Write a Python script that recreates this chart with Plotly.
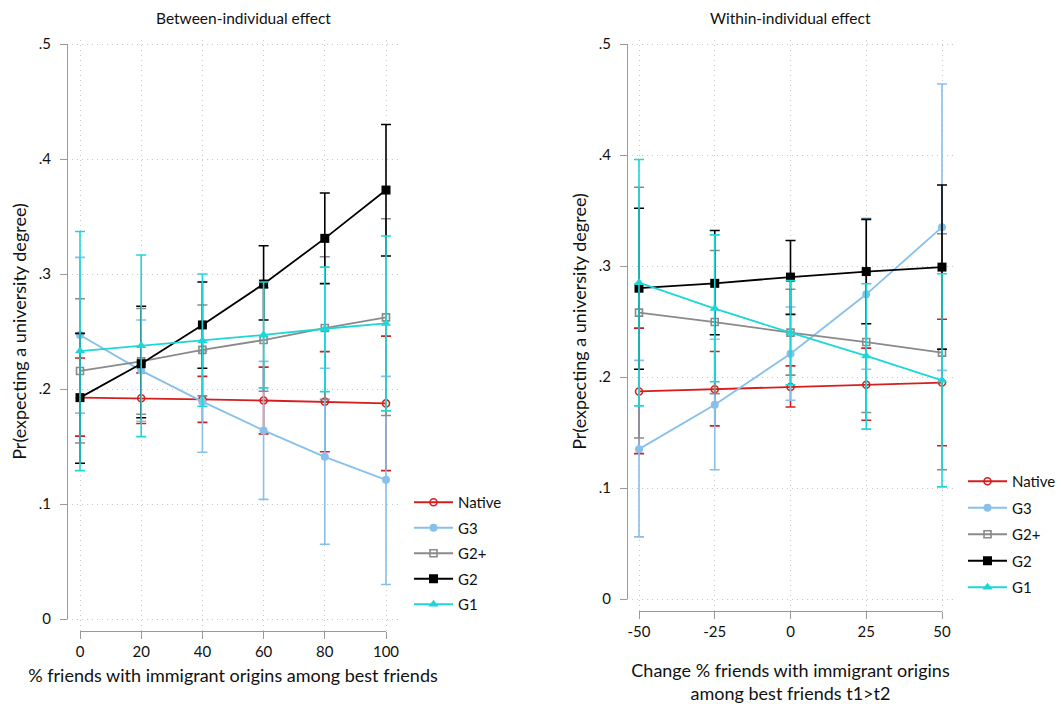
import plotly.graph_objects as go

# ---------------- data ----------------
groups = ["Native", "G3", "G2+", "G2", "G1"]

between_x = [0, 20, 40, 60, 80, 100]
between_mean = {
    "Native": [0.1925, 0.192, 0.191, 0.190, 0.189, 0.1875],
    "G3":     [0.247, 0.216, 0.189, 0.164, 0.141, 0.121],
    "G2+":    [0.2157, 0.224, 0.234, 0.2426, 0.253, 0.2623],
    "G2":     [0.1925, 0.222, 0.2557, 0.2913, 0.331, 0.373],
    "G1":     [0.233, 0.2377, 0.242, 0.247, 0.2524, 0.257],
}
between_lower = {
    "Native": [0.159, 0.170, 0.171, 0.161, 0.1455, 0.129],
    "G3":     [0.179, 0.172, 0.145, 0.104, 0.065, 0.030],
    "G2+":    [0.153, 0.178, 0.194, 0.198, 0.191, 0.177],
    "G2":     [0.1354, 0.175, 0.218, 0.260, 0.2916, 0.3157],
    "G1":     [0.129, 0.1586, 0.185, 0.201, 0.1977, 0.181],
}
between_upper = {
    "Native": [0.227, 0.214, 0.211, 0.219, 0.2325, 0.246],
    "G3":     [0.3145, 0.260, 0.233, 0.224, 0.218, 0.211],
    "G2+":    [0.2785, 0.270, 0.273, 0.288, 0.315, 0.348],
    "G2":     [0.2484, 0.272, 0.293, 0.3246, 0.3704, 0.430],
    "G1":     [0.337, 0.3165, 0.300, 0.293, 0.306, 0.333],
}

within_x = [-50, -25, 0, 25, 50]
within_mean = {
    "Native": [0.187, 0.189, 0.191, 0.193, 0.195],
    "G3":     [0.135, 0.175, 0.221, 0.2745, 0.335],
    "G2+":    [0.258, 0.2495, 0.240, 0.2315, 0.222],
    "G2":     [0.280, 0.2844, 0.290, 0.295, 0.299],
    "G1":     [0.285, 0.2616, 0.240, 0.219, 0.197],
}
within_lower = {
    "Native": [0.131, 0.156, 0.173, 0.161, 0.138],
    "G3":     [0.056, 0.1165, 0.179, 0.207, 0.206],
    "G2+":    [0.145, 0.185, 0.2017, 0.168, 0.1165],
    "G2":     [0.207, 0.238, 0.2564, 0.248, 0.225],
    "G1":     [0.174, 0.1957, 0.193, 0.153, 0.101],
}
within_upper = {
    "Native": [0.244, 0.223, 0.210, 0.226, 0.252],
    "G3":     [0.215, 0.234, 0.263, 0.343, 0.464],
    "G2+":    [0.371, 0.314, 0.279, 0.295, 0.329],
    "G2":     [0.352, 0.332, 0.323, 0.342, 0.373],
    "G1":     [0.396, 0.328, 0.287, 0.284, 0.293],
}

y_ticks = [0, 0.1, 0.2, 0.3, 0.4, 0.5]
y_ticktext = ["0", ".1", ".2", ".3", ".4", ".5"]
between_ticktext = ["0", "20", "40", "60", "80", "100"]
within_ticktext = ["-50", "-25", "0", "25", "50"]

# ---------------- styles ----------------
colors = {"Native": "#d41f1f", "G3": "#88c0ea", "G2+": "#8a8a8a", "G2": "#000000", "G1": "#1fd6d6"}
symbols = {"Native": "circle-open", "G3": "circle", "G2+": "square-open", "G2": "square", "G1": "triangle-up"}
sizes = {"Native": 7, "G3": 8, "G2+": 7, "G2": 9, "G1": 9}

FONT = "Lato, 'Open Sans', sans-serif"
W, H = 1062, 704
GRID = "#c8c8c8"
AXC = "#9a9a9a"

def px_x(p):
    return p / W

def px_y(p):
    return (H - p) / H

fig = go.Figure()

def add_panel(xs, mean, lo, up, xa, ya, legend):
    for g in groups:
        m = mean[g]
        plus = [u - v for u, v in zip(up[g], m)]
        minus = [v - l for v, l in zip(m, lo[g])]
        mk = dict(symbol=symbols[g], size=sizes[g], color=colors[g])
        if "open" in symbols[g]:
            mk["line"] = dict(color=colors[g], width=1.6)
        fig.add_trace(go.Scatter(
            x=xs, y=m, name=g, mode="lines+markers",
            line=dict(color=colors[g], width=1.8),
            marker=mk,
            error_y=dict(type="data", symmetric=False, array=plus, arrayminus=minus,
                         color=colors[g], thickness=1.6, width=5),
            xaxis=xa, yaxis=ya, legend=legend, legendgroup=legend + g,
            cliponaxis=False,
        ))

# dummy traces so the axis-line axes render (added first so they sit underneath)
fig.add_trace(go.Scatter(x=[None], y=[None], xaxis="x3", yaxis="y3", showlegend=False, hoverinfo="skip"))
fig.add_trace(go.Scatter(x=[None], y=[None], xaxis="x4", yaxis="y4", showlegend=False, hoverinfo="skip"))

add_panel(between_x, between_mean, between_lower, between_upper, "x", "y", "legend")
add_panel(within_x, within_mean, within_lower, within_upper, "x2", "y2", "legend2")

# left panel geometry
L_x0px, L_x100px, L_gridL, L_gridR = 80, 386, 67, 398
L_y0px, L_y5px = 619, 44
L_xaxis_px = 631
# right panel geometry
R_xm50px, R_x50px, R_gridL, R_gridR = 639, 942, 627, 955
R_y0px, R_y5px = 599, 44
R_xaxis_px = 611
TOP_px = 40

def lin_range(p_lo, p_hi, v_lo, v_hi, a, b):
    k = (v_hi - v_lo) / (p_hi - p_lo)
    return [v_lo + (a - p_lo) * k, v_lo + (b - p_lo) * k]

Lx_range = lin_range(L_x0px, L_x100px, 0, 100, L_gridL, L_gridR)
Rx_range = lin_range(R_xm50px, R_x50px, -50, 50, R_gridL, R_gridR)
Ly_range = lin_range(L_y0px, L_y5px, 0, 0.5, L_xaxis_px, TOP_px)
Ry_range = lin_range(R_y0px, R_y5px, 0, 0.5, R_xaxis_px, TOP_px)

grid_axis = dict(showgrid=True, gridcolor=GRID, griddash="1px,4px", gridwidth=1,
                 zeroline=False, showline=False, showticklabels=False, ticks="",
                 automargin=False)
line_axis = dict(showgrid=False, zeroline=False, showline=True, linecolor=AXC, linewidth=1,
                 ticks="outside", ticklen=7, tickcolor=AXC, tickwidth=1, automargin=False,
                 tickfont=dict(family=FONT, size=15, color="#111"))
TITLE_FONT = dict(family=FONT, size=18, color="#111")

fig.update_layout(
    width=W, height=H,
    margin=dict(l=0, r=0, t=0, b=0, autoexpand=False),
    paper_bgcolor="white", plot_bgcolor="rgba(0,0,0,0)",
    font=dict(family=FONT, size=15, color="#111"),
    xaxis=dict(domain=[px_x(L_gridL), px_x(L_gridR)], range=Lx_range, tickvals=between_x,
               anchor="y", **grid_axis),
    yaxis=dict(domain=[px_y(L_xaxis_px), px_y(TOP_px)], range=Ly_range, tickvals=y_ticks,
               anchor="x", **grid_axis),
    xaxis2=dict(domain=[px_x(R_gridL), px_x(R_gridR)], range=Rx_range, tickvals=within_x,
                anchor="y2", **grid_axis),
    yaxis2=dict(domain=[px_y(R_xaxis_px), px_y(TOP_px)], range=Ry_range, tickvals=y_ticks,
                anchor="x2", **grid_axis),
    xaxis3=dict(domain=[px_x(L_x0px), px_x(L_x100px)], range=[0, 100], tickvals=between_x,
                ticktext=between_ticktext, anchor="free", position=px_y(L_xaxis_px),
                title=dict(text="% friends with immigrant origins among best friends",
                           font=TITLE_FONT, standoff=10),
                **line_axis),
    yaxis3=dict(domain=[px_y(L_y0px), px_y(L_y5px)], range=[0, 0.5], tickvals=y_ticks,
                ticktext=y_ticktext, anchor="free", position=px_x(L_gridL),
                ticklabelstandoff=6,
                title=dict(text="Pr(expecting a university degree)",
                           font=TITLE_FONT, standoff=6),
                **line_axis),
    xaxis4=dict(domain=[px_x(R_xm50px), px_x(R_x50px)], range=[-50, 50], tickvals=within_x,
                ticktext=within_ticktext, anchor="free", position=px_y(R_xaxis_px),
                title=dict(text="Change % friends with immigrant origins<br>among best friends t1>t2",
                           font=TITLE_FONT, standoff=29),
                **line_axis),
    yaxis4=dict(domain=[px_y(R_y0px), px_y(R_y5px)], range=[0, 0.5], tickvals=y_ticks,
                ticktext=y_ticktext, anchor="free", position=px_x(R_gridL),
                ticklabelstandoff=6,
                title=dict(text="Pr(expecting a university degree)",
                           font=TITLE_FONT, standoff=6),
                **line_axis),
    legend=dict(x=px_x(409), y=px_y(486), xanchor="left", yanchor="top",
                bgcolor="rgba(0,0,0,0)", font=dict(family=FONT, size=15, color="#111"),
                tracegroupgap=3, itemwidth=39),
    legend2=dict(x=px_x(963), y=px_y(465), xanchor="left", yanchor="top",
                 bgcolor="rgba(0,0,0,0)", font=dict(family=FONT, size=15, color="#111"),
                 tracegroupgap=4, itemwidth=39),
    annotations=[
        dict(text="Between-individual effect", x=px_x(243), y=px_y(18), xref="paper", yref="paper",
             showarrow=False, font=dict(family=FONT, size=15.5, color="#111"), xanchor="center", yanchor="middle"),
        dict(text="Within-individual effect", x=px_x(790), y=px_y(18), xref="paper", yref="paper",
             showarrow=False, font=dict(family=FONT, size=15.5, color="#111"), xanchor="center", yanchor="middle"),
    ],
)

fig.write_html("out.html")
